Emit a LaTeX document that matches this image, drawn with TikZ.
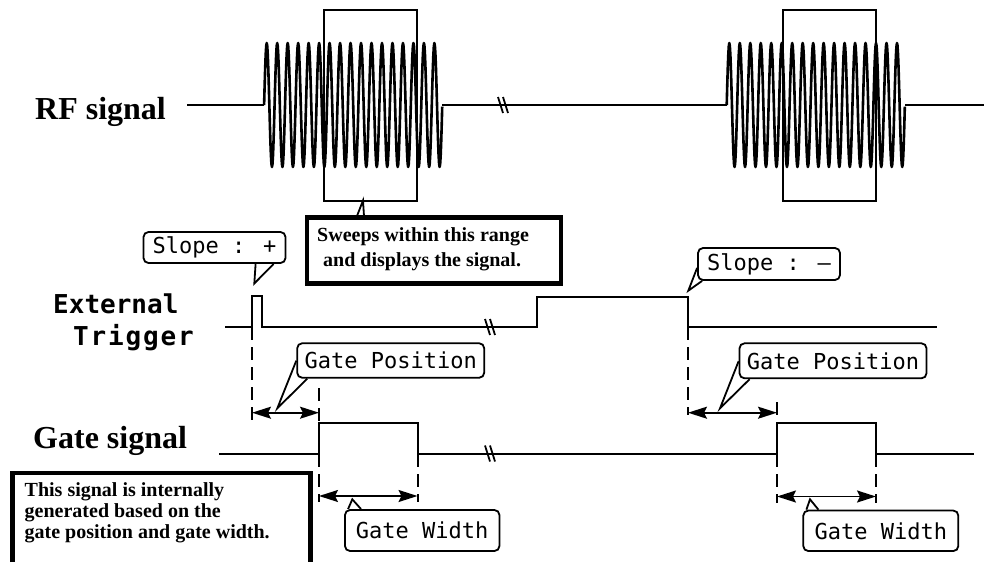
\documentclass[tikz,border=0pt]{standalone}
\usepackage{fontspec}
\setmainfont{Liberation Serif}
\newfontfamily\calloutfont{DejaVu Sans Mono}
\usetikzlibrary{arrows.meta, positioning, calc}

\begin{document}
\begin{tikzpicture}[
    x=1pt, y=-1pt,
    signal/.style={line width=2pt, line join=miter},
    wave/.style={line width=2.6pt, line join=round},
    rangebox/.style={rectangle, draw, line width=2pt, minimum width=93pt, minimum height=191pt, inner sep=0pt},
    titlelabel/.style={font=\bfseries\fontsize{32}{36}\selectfont, anchor=base west, inner sep=0pt},
    triglabel/.style={font=\calloutfont\bfseries\fontsize{26}{32}\selectfont, anchor=base west, inner sep=0pt, align=left},
    notebox/.style={rectangle, draw, line width=4.5pt, inner sep=0pt},
    notetext/.style={anchor=north west, inner sep=0pt, align=left, font=\bfseries\fontsize{20}{21}\selectfont},
    callout/.style={rectangle, draw, fill=white, line width=1.8pt, rounded corners=5pt, inner sep=0pt, font=\calloutfont\fontsize{22}{24}\selectfont},
    tail/.style={line width=1.8pt, line join=miter},
    dimline/.style={line width=2pt, dash pattern=on 13pt off 7pt},
    dimarrow/.style={line width=1.8pt, {Stealth[length=19pt,width=12pt,inset=3pt]}-{Stealth[length=19pt,width=12pt,inset=3pt]}}
]
    \useasboundingbox (0,0) rectangle (984,562);

    \node[titlelabel] (rflabel) at (35,119) {RF signal};
    \node[triglabel] (triglabel) at (53,345) {External\\\hspace{20pt}\addfontfeature{LetterSpace=7}Trigger};
    \node[titlelabel] (gatelabel) at (33,448) {Gate signal};

    \draw[signal] (187,105) -- (264.1,105);
    \draw[signal] (441.9,105) -- (726.7,105);
    \draw[signal] (905,105) -- (984,105);
    \foreach \wx in {264.1,726.7}
        \draw[wave] plot[domain=0:17, samples=341] ({\wx+10.48*\x},{105-62*sin(360*\x)});

    \node[rangebox] (rangea) at (370.7,105) {};
    \node[rangebox] (rangeb) at (829.2,105) {};

    \node[notebox, minimum width=254pt, minimum height=66pt] (sweepbox) at (434,250.5) {};
    \node[notetext, font=\bfseries\fontsize{20}{25}\selectfont] (sweeptext) at (317,227) {Sweeps within this range\\\hspace{6pt}and displays the signal.};
    \draw[tail] (357,216) -- (363,200.5) -- (364,216);

    \draw[line width=4.5pt] (12.5,562) -- (12.5,473) -- (310.5,473) -- (310.5,562);
    \node[notetext] (gatetext) at (24.5,482.5) {This signal is internally\\generated based on the\\gate position and gate width.};

    \draw[signal] (225,327) -- (252,327) -- (252,296) -- (262,296) -- (262,327) -- (537,327) -- (537,296.5) -- (688,296.5) -- (688,327) -- (937.3,327);
    \draw[signal] (219,453.5) -- (319,453.5) -- (319,422.5) -- (417.5,422.5) -- (417.5,453.5) -- (777,453.5) -- (777,423) -- (876,423) -- (876,454) -- (974,454);

    \foreach \bx/\by in {503/105,490/327,490/453.5} {
        \draw[line width=1.8pt] (\bx-5,\by-8) -- (\bx,\by+8);
        \draw[line width=1.8pt] (\bx,\by-8) -- (\bx+5,\by+8);
    }

    \draw[dimline] (252,327) -- (252,427);
    \draw[dimline] (319,388) -- (319,422);
    \draw[dimline] (319,454) -- (319,502);
    \draw[dimline] (417.5,454) -- (417.5,502);
    \draw[dimline] (688,327) -- (688,415);
    \draw[dimline] (777,402) -- (777,423);
    \draw[dimline] (777,454) -- (777,503);
    \draw[dimline] (876,454) -- (876,503);

    \coordinate (posastart) at (252,412.7);
    \coordinate (posaend) at (319,412.7);
    \coordinate (posbstart) at (688,412.7);
    \coordinate (posbend) at (777,412.7);
    \coordinate (widthastart) at (319,496);
    \coordinate (widthaend) at (417.5,496);
    \coordinate (widthbstart) at (777,496.5);
    \coordinate (widthbend) at (876,496.5);
    \draw[dimarrow] (posastart) -- (posaend);
    \draw[dimarrow] (posbstart) -- (posbend);
    \draw[dimarrow] (widthastart) -- (widthaend);
    \draw[dimarrow] (widthbstart) -- (widthbend);

    \node[callout, minimum width=142pt, minimum height=31pt] (slopeplus) at (214.5,247.5) {Slope : +};
    \node[callout, minimum width=142pt, minimum height=32pt] (slopeminus) at (769,264) {Slope : –};
    \node[callout, minimum width=187pt, minimum height=34.5pt] (posa) at (390.7,360.5) {Gate Position};
    \node[callout, minimum width=187pt, minimum height=35pt] (posb) at (833,360.8) {Gate Position};
    \node[callout, minimum width=154.5pt, minimum height=41pt] (widtha) at (422.2,530.5) {Gate Width};
    \node[callout, minimum width=155pt, minimum height=40.5pt] (widthb) at (880.8,530.8) {Gate Width};

    \draw[tail] ([xshift=113pt]slopeplus.south west) -- (254.3,283.5) -- ([xshift=131pt]slopeplus.south west);
    \draw[tail] ([yshift=13pt]slopeminus.south west) -- (688.3,290.7) -- ([xshift=5pt]slopeminus.south west);
    \draw[tail] ([yshift=18pt]posa.south west) -- (277.3,408.3) -- ([xshift=11pt]posa.south west);
    \draw[tail] ([yshift=18pt]posb.south west) -- (720,408.3) -- ([xshift=11pt]posb.south west);
    \draw[tail] ([xshift=4pt]widtha.north west) -- (352.3,499.3) -- ([xshift=17pt]widtha.north west);
    \draw[tail] ([xshift=4pt]widthb.north west) -- (810,499.3) -- ([xshift=16pt]widthb.north west);
\end{tikzpicture}
\end{document}
